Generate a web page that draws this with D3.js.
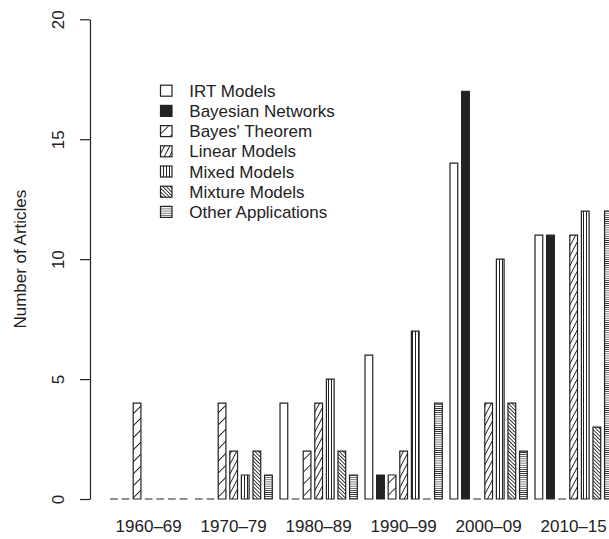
<!DOCTYPE html>
<html>
<head>
<meta charset="utf-8">
<script src="https://cdn.jsdelivr.net/npm/d3@7"></script>
<style>
  html, body { margin: 0; padding: 0; background: #fff; }
  svg { display: block; }
  text { font-family: "Liberation Sans", Arial, Helvetica, sans-serif; fill: #222; }
</style>
</head>
<body>
<svg id="chart" width="609" height="539"></svg>
<script>
// Decades on the x axis
const categories = ["1960–69", "1970–79", "1980–89", "1990–99", "2000–09", "2010–15"];

// Number of articles per decade, one array per application area
const irtModels         = [0, 0, 4, 6, 14, 11];
const bayesianNetworks  = [0, 0, 0, 1, 17, 11];
const bayesTheorem      = [4, 4, 2, 1, 0, 0];
const linearModels      = [0, 2, 4, 2, 4, 11];
const mixedModels       = [0, 1, 5, 7, 10, 12];
const mixtureModels     = [0, 2, 2, 0, 4, 3];
const otherApplications = [0, 1, 1, 4, 2, 12];

const seriesNames = ["IRT Models", "Bayesian Networks", "Bayes' Theorem", "Linear Models",
                     "Mixed Models", "Mixture Models", "Other Applications"];
const seriesValues = [irtModels, bayesianNetworks, bayesTheorem, linearModels,
                      mixedModels, mixtureModels, otherApplications];
const yTicks = [0, 5, 10, 15, 20];

const ink = "#222";
const svg = d3.select("#chart");
const defs = svg.append("defs");

// Fill styles: white, solid, or hatch lines (angle in degrees, spacing in px)
const fills = [
  { kind: "empty" },
  { kind: "solid" },
  { kind: "hatch", angle: 45, gap: 8.5, w: 1.1 },
  { kind: "hatch", angle: 62, gap: 4.6, w: 1.1 },
  { kind: "hatch", angle: 90, gap: 3.0, w: 1.0 },
  { kind: "hatch", angle: 135, gap: 2.6, w: 0.9 },
  { kind: "hatch", angle: 0, gap: 2.1, w: 0.8 }
];

fills.forEach((f, i) => {
  if (f.kind !== "hatch") return;
  const p = defs.append("pattern")
    .attr("id", "pat" + i)
    .attr("patternUnits", "userSpaceOnUse")
    .attr("width", 40)
    .attr("height", f.gap)
    .attr("patternTransform", `rotate(${-f.angle})`);
  p.append("rect").attr("width", 40).attr("height", f.gap).attr("fill", "#fff");
  p.append("line")
    .attr("x1", 0).attr("x2", 40)
    .attr("y1", f.gap / 2).attr("y2", f.gap / 2)
    .attr("stroke", ink).attr("stroke-width", f.w);
});

function fillOf(i) {
  const f = fills[i];
  if (f.kind === "empty") return "#fff";
  if (f.kind === "solid") return ink;
  return `url(#pat${i})`;
}

// Scales: bar unit u, R-style spacing (0.5 between bars, 1 between groups)
const x0 = 102.3, u = 7.727;
const xGroup = d3.scaleBand()
  .domain(categories)
  .range([x0 + u, x0 + 66 * u])
  .paddingInner(1 / 11)
  .paddingOuter(0);
const xInner = d3.scaleBand()
  .domain(d3.range(seriesNames.length))
  .range([0, xGroup.bandwidth()])
  .paddingInner(1 / 3)
  .paddingOuter(0);
const y = d3.scaleLinear().domain([0, 20]).range([499, 19.3]);

// Bars (drawn as closed paths so that zero counts still show as a flat line)
const bars = [];
categories.forEach((c, ci) => {
  seriesValues.forEach((vals, si) => {
    bars.push({ c, si, v: vals[ci] });
  });
});

svg.append("g").selectAll("path")
  .data(bars)
  .join("path")
  .attr("d", d => {
    const xl = xGroup(d.c) + xInner(d.si);
    const xr = xl + xInner.bandwidth();
    return `M${xl},${y(0)}V${y(d.v)}H${xr}V${y(0)}Z`;
  })
  .attr("fill", d => fillOf(d.si))
  .attr("stroke", ink)
  .attr("stroke-width", 1.2);

// Y axis
const yAxis = svg.append("g")
  .attr("transform", "translate(90,0)")
  .call(d3.axisLeft(y).tickValues(yTicks).tickSize(10).tickSizeOuter(0));
yAxis.select(".domain").attr("stroke", ink).attr("stroke-width", 1.2);
yAxis.selectAll(".tick line").attr("stroke", ink).attr("stroke-width", 1.2);
yAxis.selectAll(".tick text")
  .attr("x", null).attr("dy", null).attr("y", null)
  .attr("transform", "translate(-26.5,0) rotate(-90)")
  .attr("text-anchor", "middle")
  .style("font-size", "17px")
  .style("font-family", '"Liberation Sans", Arial, sans-serif')
  .attr("fill", ink);

svg.append("text")
  .attr("transform", `translate(26,${y(10)}) rotate(-90)`)
  .attr("text-anchor", "middle")
  .style("font-size", "17px")
  .text("Number of Articles");

// Decade labels
svg.append("g").selectAll("text")
  .data(categories)
  .join("text")
  .attr("x", d => xGroup(d) + xGroup.bandwidth() / 2)
  .attr("y", 532)
  .attr("text-anchor", "middle")
  .style("font-size", "17px")
  .text(d => d);

// Legend
const legend = svg.append("g");
seriesNames.forEach((name, i) => {
  const cy = 90.7 + 20.2 * i;
  legend.append("rect")
    .attr("x", 160.5).attr("y", cy - 5.5)
    .attr("width", 11.5).attr("height", 11)
    .attr("fill", fillOf(i))
    .attr("stroke", ink).attr("stroke-width", 1.2);
  legend.append("text")
    .attr("x", 189.3).attr("y", cy + 6)
    .style("font-size", "17px")
    .text(name);
});
</script>
</body>
</html>
